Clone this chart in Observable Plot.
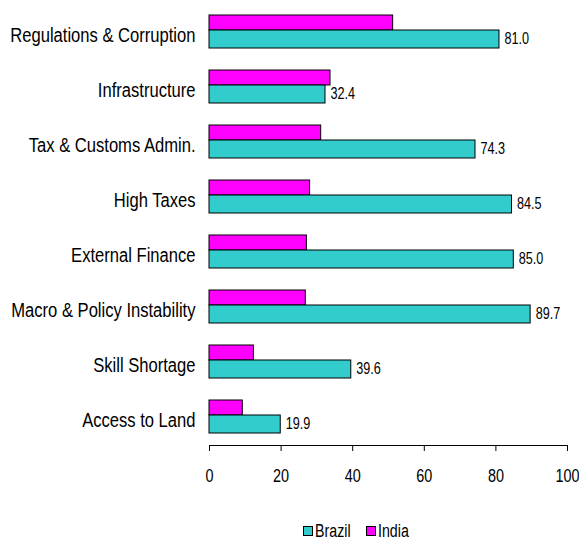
<!DOCTYPE html>
<html>
<head>
<meta charset="utf-8">
<script src="https://cdn.jsdelivr.net/npm/d3@7"></script>
<script src="https://cdn.jsdelivr.net/npm/@observablehq/plot@0.6"></script>
<style>
  html, body { margin: 0; padding: 0; background: #fff; }
  #chart svg { display: block; }
  .legend { display: flex; align-items: center; margin-top: 31px; padding-left: 303px; height: 20px;
    font-family: 'Liberation Sans', Arial, sans-serif; font-size: 18px; color: #000; }
  .sw { width: 8px; height: 8px; border: 1px solid #000; display: inline-block; margin-right: 2px; flex: none; }
  .item { display: flex; align-items: center; }
  .lbl { display: inline-block; transform: scaleX(0.79); transform-origin: left center; }
</style>
</head>
<body>
<div id="chart"></div>
<script>
const categories = ["Regulations & Corruption", "Infrastructure", "Tax & Customs Admin.", "High Taxes", "External Finance", "Macro & Policy Instability", "Skill Shortage", "Access to Land"];
const brazil = [81.0, 32.4, 74.3, 84.5, 85.0, 89.7, 39.6, 19.9];
const india = [51.3, 33.8, 31.2, 28.1, 27.2, 26.9, 12.4, 9.3];
const xTicks = [0, 20, 40, 60, 80, 100];
const seriesNames = ["Brazil", "India"];
const seriesColors = ["#33CCCC", "#FF00FF"];

const brazilData = categories.map((c, i) => ({cat: c, value: brazil[i]}));
const indiaData = categories.map((c, i) => ({cat: c, value: india[i]}));

const font = "'Liberation Sans', Arial, sans-serif";
const narrow = 0.79;     // horizontal compression to mimic a narrow face
const narrowTick = 0.76;

const chart = Plot.plot({
  width: 579,
  height: 490,
  marginLeft: 209,
  marginRight: 12,
  marginTop: 3,
  marginBottom: 45,
  style: {fontFamily: font, background: "#fff", color: "#000"},
  x: {domain: [0, 100]},
  y: {domain: categories, paddingInner: 0.4, paddingOuter: 0.2},
  marks: [
    Plot.barX(indiaData, {x: "value", y: "cat", fill: seriesColors[1], stroke: "#000", strokeWidth: 1, insetBottom: 18}),
    Plot.barX(brazilData, {x: "value", y: "cat", fill: seriesColors[0], stroke: "#000", strokeWidth: 1, insetTop: 15}),
    Plot.text(brazilData, {x: "value", y: "cat", text: d => d.value.toFixed(1), textAnchor: "start", dx: 5, dy: 7, fontSize: 16, fill: "#000"}),
    Plot.frame({anchor: "bottom", stroke: "#000"}),
    Plot.axisX({ticks: xTicks, tickSize: 6, tickPadding: 17, fontSize: 19, tickFormat: d => String(d), label: null, stroke: "#000"}),
    Plot.axisY({tickSize: 0, tickPadding: 14, fontSize: 21, dy: 3, label: null})
  ]
});

d3.select(chart).selectAll("text").each(function() {
  const isXTick = this.closest('[aria-label="x-axis tick label"]') !== null;
  const t = this.getAttribute("transform") || "";
  this.setAttribute("transform", (t + ` scale(${isXTick ? narrowTick : narrow},1)`).trim());
});

document.getElementById("chart").appendChild(chart);

const legend = document.createElement("div");
legend.className = "legend";
seriesNames.forEach((name, i) => {
  const item = document.createElement("span");
  item.className = "item";
  item.style.marginRight = i === 0 ? "6px" : "0";
  const sw = document.createElement("span");
  sw.className = "sw";
  sw.style.background = seriesColors[i];
  const lbl = document.createElement("span");
  lbl.className = "lbl";
  lbl.textContent = name;
  item.appendChild(sw);
  item.appendChild(lbl);
  legend.appendChild(item);
});
document.getElementById("chart").appendChild(legend);
</script>
</body>
</html>
